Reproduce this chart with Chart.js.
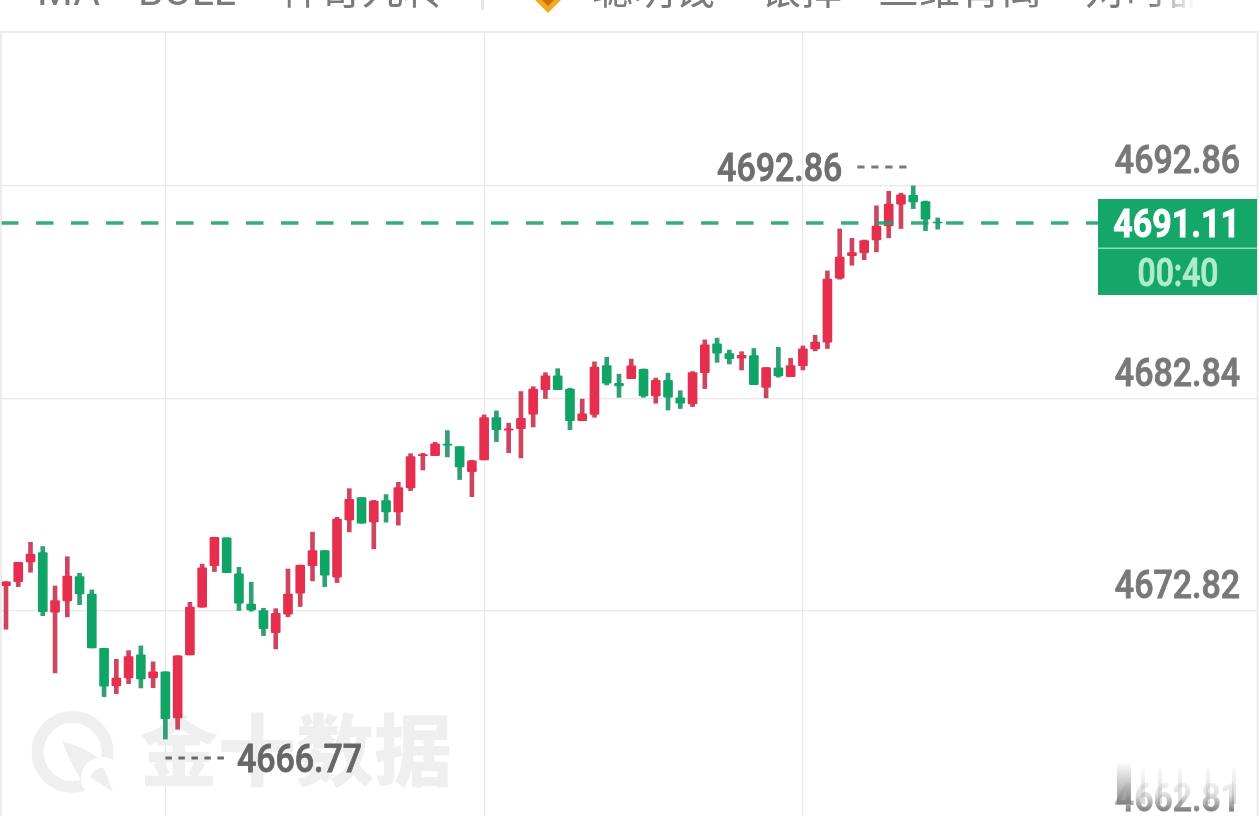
<!DOCTYPE html>
<html>
<head>
<meta charset="utf-8">
<script src="https://cdn.jsdelivr.net/npm/chart.js@4"></script>
<style>
  html, body { margin: 0; padding: 0; background: #fff; overflow: hidden; }
  canvas { display: block; }
</style>
</head>
<body>
<canvas id="kline" width="1260" height="816"></canvas>
<script>
const open = [4674.01,4674.19,4675.12,4675.56,4672.75,4673.28,4674.43,4673.61,4671.05,4669.28,4669.65,4670.74,4669.65,4669.94,4667.77,4670.74,4672.99,4674.95,4676.26,4674.56,4673.14,4672.83,4671.79,4672.66,4673.65,4674.95,4675.66,4674.40,4677.11,4678.16,4677.01,4678.02,4677.48,4678.61,4680.14,4680.14,4680.68,4680.56,4679.38,4679.94,4681.93,4681.34,4681.41,4682.09,4683.25,4683.90,4683.28,4681.79,4682.08,4684.38,4683.55,4683.77,4684.21,4682.95,4683.69,4682.87,4682.58,4684.05,4685.41,4684.95,4684.73,4684.86,4683.35,4684.28,4683.86,4684.38,4685.17,4685.49,4688.51,4689.57,4689.71,4690.31,4690.97,4692.00,4692.42,4692.12,4691.16];
const high = [4674.19,4675.11,4676.05,4675.85,4673.99,4675.37,4674.59,4673.80,4671.05,4670.53,4670.94,4671.16,4670.41,4669.94,4670.70,4673.22,4675.02,4676.29,4676.26,4674.87,4674.17,4672.94,4672.92,4674.79,4674.98,4676.53,4675.66,4677.23,4678.58,4678.16,4678.03,4678.30,4678.88,4680.23,4680.25,4680.77,4681.32,4680.56,4679.92,4682.06,4682.25,4681.67,4683.16,4683.39,4684.05,4684.24,4683.32,4682.80,4684.56,4684.78,4683.98,4684.69,4684.23,4683.80,4684.03,4683.20,4684.10,4685.60,4685.68,4685.12,4685.04,4685.19,4684.29,4685.25,4684.73,4685.31,4685.82,4688.85,4690.83,4690.39,4690.31,4691.92,4692.61,4692.52,4692.86,4692.15,4691.35];
const low = [4671.95,4673.96,4674.64,4672.59,4669.89,4672.53,4673.11,4671.07,4668.77,4668.91,4669.38,4669.18,4669.19,4666.77,4667.23,4670.74,4672.99,4674.67,4674.62,4672.83,4672.80,4671.65,4671.02,4672.54,4673.02,4674.23,4673.96,4674.15,4676.54,4676.95,4675.74,4677.00,4676.86,4678.49,4679.46,4680.14,4680.08,4679.01,4678.20,4679.94,4680.80,4680.28,4680.03,4681.49,4682.83,4683.25,4681.36,4681.79,4681.95,4683.47,4682.89,4683.77,4682.89,4682.61,4682.29,4682.36,4682.45,4683.30,4684.54,4684.46,4684.18,4683.49,4682.86,4683.84,4683.86,4684.18,4685.08,4685.19,4688.46,4689.12,4689.38,4689.75,4690.41,4690.85,4691.79,4690.75,4690.82];
const close = [4674.19,4675.11,4675.50,4672.78,4673.30,4674.46,4673.61,4671.07,4669.26,4669.65,4670.66,4669.61,4669.94,4667.73,4670.70,4672.99,4674.84,4676.29,4674.62,4673.18,4672.86,4671.98,4672.70,4673.61,4674.96,4675.66,4674.50,4677.14,4678.08,4676.95,4678.00,4677.48,4678.63,4680.09,4680.19,4680.70,4680.63,4679.61,4679.89,4681.93,4681.36,4681.40,4681.90,4683.28,4683.90,4683.25,4681.79,4682.11,4684.31,4683.55,4683.43,4684.37,4682.95,4683.69,4682.89,4682.61,4684.05,4685.36,4684.97,4684.71,4684.87,4683.49,4684.29,4683.90,4684.38,4685.17,4685.49,4688.46,4689.50,4689.71,4690.28,4690.97,4692.00,4692.44,4692.11,4691.29,4691.11];

const yTickValues = [4692.86, 4682.84, 4672.82, 4662.80];
const yTickLabels = ['4692.86', '4682.84', '4672.82', '4662.81'];
const xGridCandles = [13, 39, 65];
const lastPrice = 4691.11;
const countdown = '00:40';
const highCandle = 74, lowCandle = 13;
const highLabel = '4692.86', lowLabel = '4666.77';

const RED = '#e62f4e', GREEN = '#10a566';
const RED_WICK = '#cf4560', GREEN_WICK = '#2f9f76';
const GRID = '#e8e8e8', TEXT = '#787878';
const NUM_FONT = 'Roboto';

function drawText(ctx, text, x, y, font, color, align, stretch) {
  ctx.save();
  ctx.font = font;
  ctx.fillStyle = color;
  ctx.strokeStyle = color;
  ctx.lineWidth = 0.9;
  ctx.textAlign = align;
  ctx.textBaseline = 'alphabetic';
  ctx.translate(x, y + 14);  // y is the middle of the digits
  ctx.scale(stretch, 1);
  ctx.fillText(text, 0, 0);
  ctx.strokeText(text, 0, 0);
  ctx.restore();
}

function dashes(ctx, x1, x2, y, color, on, off) {
  ctx.save();
  ctx.strokeStyle = color;
  ctx.lineWidth = 3;
  ctx.setLineDash([on, off]);
  ctx.beginPath();
  ctx.moveTo(x1, y);
  ctx.lineTo(x2, y);
  ctx.stroke();
  ctx.restore();
}

// 金十数据 watermark, sits under the candles
const watermark = {
  id: 'watermark',
  beforeDatasetsDraw(chart) {
    const ctx = chart.ctx, c = '#efefef';
    ctx.save();
    ctx.strokeStyle = c;
    ctx.lineWidth = 12;
    ctx.beginPath();
    ctx.arc(72.5, 752, 35, 0, Math.PI * 2);
    ctx.stroke();
    ctx.fillStyle = c;
    ctx.beginPath();
    ctx.moveTo(62, 741);
    ctx.quadraticCurveTo(86, 748, 100, 759);
    ctx.lineTo(82, 782);
    ctx.quadraticCurveTo(70, 762, 62, 741);
    ctx.fill();
    ctx.fillStyle = '#fff';
    ctx.beginPath();
    ctx.arc(102, 778, 21, 0, Math.PI * 2);
    ctx.fill();
    ctx.fillStyle = c;
    ctx.beginPath();
    ctx.moveTo(90, 777);
    ctx.quadraticCurveTo(96, 766, 104, 768);
    ctx.lineTo(113, 792);
    ctx.closePath();
    ctx.fill();
    ctx.font = '900 78px "Noto Sans CJK SC"';
    ctx.textAlign = 'left';
    ctx.textBaseline = 'alphabetic';
    ctx.fillText('金十数据', 140, 780);
    ctx.restore();
  }
};

const overlay = {
  id: 'overlay',
  afterDraw(chart) {
    const ctx = chart.ctx, x = chart.scales.x, y = chart.scales.y;

    // chart frame
    ctx.save();
    ctx.strokeStyle = GRID;
    ctx.lineWidth = 1.5;
    ctx.beginPath();
    ctx.moveTo(1, 816); ctx.lineTo(1, 32); ctx.lineTo(1257.5, 32); ctx.lineTo(1257.5, 816);
    ctx.stroke();
    ctx.restore();

    // cropped toolbar text along the top edge
    const bar = '41px "Noto Sans CJK SC"', latin = '41px Roboto';
    ctx.save();
    ctx.fillStyle = '#7b7b7b';
    ctx.textBaseline = 'alphabetic';
    ctx.font = latin;
    ctx.fillText('MA', 37, 5);
    ctx.fillText('BOLL', 138, 5);
    ctx.font = bar;
    ctx.fillText('神奇九转', 280, 4);
    ctx.fillText('聪明钱', 592, 4);
    ctx.fillText('银择', 760, 4);
    ctx.fillText('三维背离', 878, 4);
    ctx.fillText('对时器', 1085, 4);
    const fade = ctx.createLinearGradient(1150, 0, 1195, 0);
    fade.addColorStop(0, 'rgba(255,255,255,0)');
    fade.addColorStop(1, '#fff');
    ctx.fillStyle = fade;
    ctx.fillRect(1150, 0, 70, 14);
    ctx.fillStyle = '#e4e4e4';
    ctx.fillRect(481, 0, 3, 10);
    ctx.fillStyle = '#f2a91f';
    ctx.beginPath();
    ctx.moveTo(535, 0); ctx.lineTo(561, 0); ctx.lineTo(548, 13);
    ctx.fill();
    ctx.fillStyle = '#c9700f';
    ctx.beginPath();
    ctx.moveTo(542, 0); ctx.lineTo(554, 0); ctx.lineTo(548, 6);
    ctx.fill();
    ctx.restore();

    // price labels sit above their grid lines
    yTickValues.forEach((v, i) => {
      drawText(ctx, yTickLabels[i], 1240, y.getPixelForValue(v) - 26.5, '500 39px ' + NUM_FONT, TEXT, 'right', 0.87);
    });

    // high / low markers
    const hx = x.getPixelForValue(highCandle), lx = x.getPixelForValue(lowCandle);
    dashes(ctx, hx - 56, hx - 6, 167, '#7a7a7a', 7.3, 6.7);
    drawText(ctx, highLabel, hx - 71, 167, '500 39px ' + NUM_FONT, '#6f6f6f', 'right', 0.87);
    dashes(ctx, lx, lx + 63.5, 758, '#6a6a6a', 6.5, 6.5);
    drawText(ctx, lowLabel, lx + 71.5, 758, '500 39px ' + NUM_FONT, '#676767', 'left', 0.87);

    // last price tag
    const py = y.getPixelForValue(lastPrice);
    ctx.fillStyle = '#15a76a';
    ctx.fillRect(1098, 199, 159, 96);
    ctx.fillStyle = '#8fdcb9';
    ctx.fillRect(1098, 247.5, 159, 1.5);
    drawText(ctx, lastPrice.toFixed(2), 1240, py, '700 39px ' + NUM_FONT, '#fff', 'right', 0.87);
    drawText(ctx, countdown, 1178, 272, '500 38px ' + NUM_FONT, '#aeeccd', 'center', 0.84);

    // washed out patch over the bottom label
    const wash = ctx.createLinearGradient(0, 775, 0, 812);
    wash.addColorStop(0, '#fff');
    wash.addColorStop(0.55, 'rgba(255,255,255,0.75)');
    wash.addColorStop(1, 'rgba(255,255,255,0)');
    ctx.fillStyle = wash;
    ctx.fillRect(1100, 760, 150, 52);
    const smear = ctx.createLinearGradient(0, 762, 0, 806);
    smear.addColorStop(0, 'rgba(120,120,120,0)');
    smear.addColorStop(1, 'rgba(120,120,120,0.85)');
    ctx.fillStyle = smear;
    ctx.fillRect(1117, 762, 14, 42);
    const faint = ctx.createLinearGradient(0, 762, 0, 806);
    faint.addColorStop(0, 'rgba(120,120,120,0)');
    faint.addColorStop(1, 'rgba(120,120,120,0.3)');
    ctx.fillStyle = faint;
    ctx.fillRect(1141, 768, 4, 36);
    ctx.fillRect(1158, 768, 4, 36);
    ctx.fillRect(1178, 768, 4, 36);
    ctx.fillRect(1206, 768, 4, 36);
    ctx.fillRect(1232, 768, 4, 36);
  }
};

const indexes = open.map((_, i) => i);
const candleColor = (up, down) => indexes.map(i => close[i] >= open[i] ? up : down);

new Chart(document.getElementById('kline'), {
  type: 'bar',
  data: {
    datasets: [
      {
        type: 'line',
        data: [{ x: -0.408, y: lastPrice }, { x: 102.04, y: lastPrice }],
        borderColor: 'rgba(30,160,108,0.88)',
        borderWidth: 3.4,
        borderDash: [17.5, 17.5],
        pointRadius: 0,
        order: 0
      },
      {
        data: indexes.map(i => ({ x: i, y: [open[i], close[i]] })),
        backgroundColor: candleColor(RED, GREEN),
        barThickness: 9,
        grouped: false,
        borderRadius: 1,
        borderSkipped: false,
        order: 1
      },
      {
        data: indexes.map(i => ({ x: i, y: [low[i], high[i]] })),
        backgroundColor: candleColor(RED_WICK, GREEN_WICK),
        barThickness: 4,
        grouped: false,
        order: 2
      }
    ]
  },
  options: {
    responsive: false,
    animation: false,
    devicePixelRatio: 1,
    events: [],
    layout: { padding: { left: 1, right: 3, top: 32, bottom: 0 } },
    plugins: { legend: { display: false }, tooltip: { enabled: false }, title: { display: false } },
    scales: {
      x: {
        type: 'linear',
        offset: false,
        min: -0.408,
        max: 102.04,
        afterBuildTicks(scale) { scale.ticks = xGridCandles.map(v => ({ value: v })); },
        grid: { offset: false, color: GRID, lineWidth: 1.2, drawTicks: false },
        border: { display: false },
        ticks: { display: false }
      },
      y: {
        min: 4663.14,
        max: 4700.12,
        afterBuildTicks(scale) { scale.ticks = yTickValues.map(v => ({ value: v })); },
        grid: { color: GRID, lineWidth: 1.2, drawTicks: false },
        border: { display: false },
        ticks: { display: false }
      }
    }
  },
  plugins: [watermark, overlay]
});
</script>
</body>
</html>
